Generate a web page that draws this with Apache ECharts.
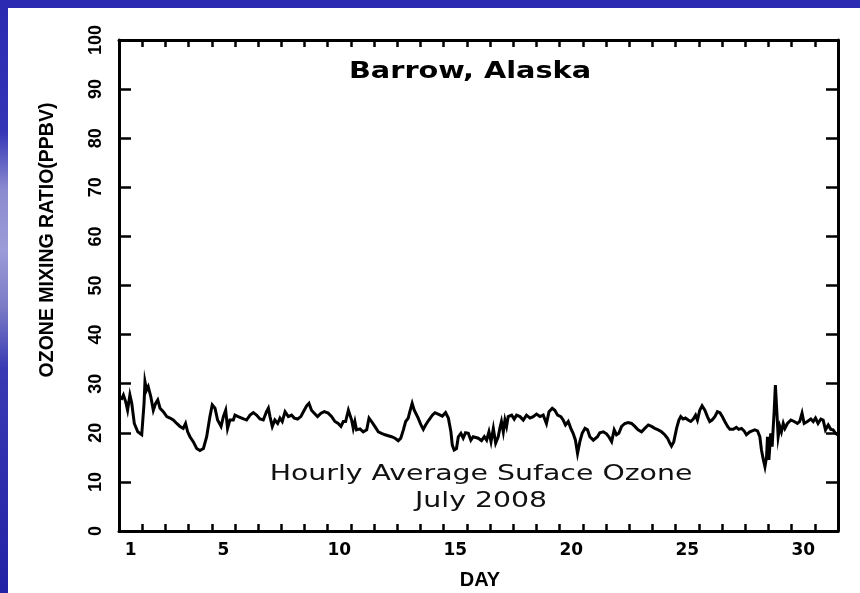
<!DOCTYPE html>
<html>
<head>
<meta charset="utf-8">
<script src="https://cdn.jsdelivr.net/npm/echarts@6/dist/echarts.min.js"></script>
<style>
html,body{margin:0;padding:0;background:#fff;}
#chart{width:860px;height:593px;}
</style>
</head>
<body>
<div id="chart"></div>
<script>
// ---- data (elapsed days since 1 July 00:00, hourly-average surface ozone in ppbv) ----
const dayValues = [
 0.09,0.19,0.29,0.37,0.47,0.55,0.66,0.81,0.98,1.08,1.12,1.19,1.26,1.37,1.48,1.58,1.67,1.77,1.91,2.06,
 2.20,2.34,2.49,2.63,2.77,2.87,2.96,3.06,3.20,3.35,3.49,3.64,3.78,3.92,4.02,4.14,4.25,4.40,4.50,4.60,
 4.68,4.78,4.93,
 5.00,5.14,5.29,5.50,5.65,5.79,5.93,6.08,6.22,6.36,6.44,6.51,6.61,6.72,6.84,6.94,7.04,7.16,7.23,7.30,
 7.44,7.56,7.70,7.84,7.95,8.09,8.19,8.30,8.42,8.56,8.71,8.85,9.02,9.17,9.31,9.45,9.57,9.67,9.77,9.89,
 9.96,10.03,10.10,10.17,10.24,
 10.39,10.53,10.68,10.78,10.89,11.03,11.18,11.32,11.47,11.61,11.75,11.90,12.04,12.15,12.26,12.36,12.47,
 12.54,12.64,12.73,12.80,12.90,13.02,13.12,13.22,13.36,13.51,13.62,13.76,13.94,14.08,14.20,14.31,14.37,
 14.45,14.55,14.63,14.74,14.84,14.94,15.06,15.17,15.27,
 15.35,15.49,15.63,15.75,15.85,15.95,16.04,16.14,16.24,16.35,16.42,16.49,16.57,16.64,16.71,16.78,16.93,
 17.04,17.14,17.29,17.43,17.57,17.72,17.86,18.00,18.15,18.29,18.43,18.54,18.68,18.79,18.91,19.05,19.15,
 19.25,19.37,19.48,19.58,19.68,19.77,19.87,19.97,20.09,20.20,20.30,20.45,
 20.63,20.73,20.88,21.02,21.12,21.24,21.35,21.45,21.55,21.67,21.81,21.95,22.10,22.24,22.38,22.53,22.67,
 22.82,22.96,23.10,23.25,23.39,23.53,23.65,23.75,23.82,23.92,24.04,24.14,24.22,24.32,24.42,24.54,24.65,
 24.76,24.86,24.94,25.04,25.14,25.26,25.37,25.47,25.57,
 25.69,25.80,25.91,26.01,26.12,26.24,26.34,26.48,26.62,26.72,26.84,26.95,27.05,27.13,27.20,27.30,27.41,
 27.53,27.63,27.70,27.77,27.85,27.92,27.96,28.02,28.10,28.16,28.25,28.30,28.36,28.42,28.49,28.56,28.64,
 28.71,28.82,28.97,29.11,29.25,29.35,29.45,29.54,29.68,29.83,29.93,30.03,30.14,30.26,30.36,30.46,30.58,
 30.69,30.79,30.89,30.98
];
const ozoneValues = [
 26.7,27.7,26.3,24.6,27.7,26.0,21.9,20.2,19.6,26.0,30.4,28.7,29.4,27.4,24.6,26.0,26.7,25.0,24.3,23.3,
 23.0,22.6,21.9,21.3,20.9,21.9,20.2,19.2,18.2,16.8,16.4,16.8,19.2,23.3,25.7,25.0,22.6,21.3,23.3,24.6,
 20.9,22.6,22.6,
 23.6,23.3,23.0,22.6,23.6,24.1,23.6,22.8,22.6,24.3,25.0,23.3,21.3,22.6,21.9,23.0,22.3,24.3,24.6,23.3,
 23.6,23.0,22.8,23.3,24.3,25.5,26.0,24.6,24.0,23.3,24.0,24.3,24.0,23.3,22.3,21.9,21.3,22.3,22.3,24.6,
 24.3,22.6,20.9,22.3,20.6,
 20.8,20.2,20.6,23.0,22.3,21.3,20.2,19.9,19.6,19.4,19.2,18.9,18.4,18.9,20.6,22.3,23.0,
 24.3,26.0,24.6,25.0,23.0,21.6,20.7,21.6,22.6,23.6,24.1,23.8,23.4,24.1,23.0,20.2,17.5,
 16.5,16.8,19.2,19.9,18.9,20.0,19.9,18.5,19.2,
 19.6,18.9,18.4,19.2,18.5,20.2,18.2,20.9,17.9,19.2,20.9,22.3,20.2,22.6,21.3,23.3,23.6,
 22.8,23.6,23.3,22.6,23.6,23.0,23.3,23.8,23.3,23.6,21.9,24.3,25.0,24.6,23.6,23.3,22.6,
 21.6,22.3,20.9,19.9,18.5,15.8,18.2,19.9,20.9,20.6,19.2,18.5,
 19.2,20.0,20.2,19.8,19.2,18.2,20.6,19.6,19.9,21.3,21.9,22.1,21.9,21.3,20.6,20.2,20.9,
 21.6,21.3,20.9,20.6,20.2,19.6,18.9,17.9,17.3,18.2,20.9,22.6,23.3,22.8,23.0,22.6,22.3,
 22.8,23.6,22.6,24.6,25.5,24.6,23.3,22.3,22.6,
 23.3,24.3,24.1,23.3,22.3,21.3,20.7,20.7,21.1,20.7,20.9,20.4,19.6,19.2,20.2,20.4,20.6,
 20.4,19.2,16.5,14.8,13.1,15.1,19.2,14.5,19.9,17.2,24.6,29.7,24.6,19.2,21.3,20.2,21.9,
 20.9,21.9,22.6,22.3,21.9,22.3,24.0,21.9,22.3,22.8,22.3,23.0,21.9,22.8,22.6,20.6,21.6,
 20.7,20.6,19.9,19.6
];
const dayTickValues = [1,2,3,4,5,6,7,8,9,10,11,12,13,14,15,16,17,18,19,20,21,22,23,24,25,26,27,28,29,30];
const dayLabels = [1,5,10,15,20,25,30];
const yTickLabels = [0,10,20,30,40,50,60,70,80,90,100];

const seriesData = dayValues.map((d,i)=>[d, ozoneValues[i]]);
// day labels sit at the middle of each day
const labelPositions = dayLabels.map(d => d - 0.5);

const chart = echarts.init(document.getElementById('chart'), null, {renderer:'canvas'});

const xBase = {
  type:'value', min:0, max:31,
  splitLine:{show:false},
  axisLine:{show:true, onZero:false, lineStyle:{color:'#000', width:3}},
  axisTick:{show:true, inside:true, length:7, lineStyle:{color:'#000', width:2.5}, customValues: dayTickValues}
};
const yBase = {
  type:'value', min:0, max:100, interval:10,
  splitLine:{show:false},
  axisLine:{show:true, onZero:false, lineStyle:{color:'#000', width:3}},
  axisTick:{show:true, inside:true, length:12, lineStyle:{color:'#000', width:2.5}}
};

chart.setOption({
  backgroundColor:'#ffffff',
  animation:false,
  grid:{left:119, right:22, top:40, bottom:62, containLabel:false},
  xAxis:[
    Object.assign({}, xBase, {
      position:'bottom',
      axisLabel:{
        show:true, customValues: labelPositions, margin:11,
        formatter: v => String(Math.round(v + 0.5)),
        fontFamily:'DejaVu Sans', fontWeight:'bold', fontSize:17, color:'#000'
      }
    }),
    Object.assign({}, xBase, {position:'top', axisLabel:{show:false}})
  ],
  yAxis:[
    Object.assign({}, yBase, {
      position:'left',
      axisLabel:{
        show:true, rotate:90, margin:14,
        customValues: yTickLabels,
        fontFamily:'Liberation Sans', fontWeight:'bold', fontSize:18, color:'#000'
      }
    }),
    Object.assign({}, yBase, {position:'right', axisLabel:{show:false}})
  ],
  series:[{
    type:'line',
    xAxisIndex:0, yAxisIndex:0,
    data: seriesData,
    showSymbol:false, symbol:'none', smooth:false,
    lineStyle:{color:'#000', width:3, join:'miter'},
    clip:true
  }],
  graphic:[
    {type:'rect', left:0, top:0, shape:{width:860, height:8}, style:{fill:'#2a2ab2'}, silent:true},
    {type:'rect', left:0, top:0, shape:{width:8, height:593},
     style:{fill:new echarts.graphic.LinearGradient(0,0,0,1,[
       {offset:0, color:'#2a2ab2'},
       {offset:0.22, color:'#3434b6'},
       {offset:0.32, color:'#8a8ad0'},
       {offset:0.42, color:'#9c9cd8'},
       {offset:0.52, color:'#7a7ac6'},
       {offset:0.62, color:'#3a3ab4'},
       {offset:1, color:'#2222a6'}
     ])}, silent:true},
    {type:'text', x:470, y:72, scaleX:1.25, silent:true,
     style:{text:'Barrow, Alaska', font:'bold 23px "DejaVu Sans"', fill:'#000', textAlign:'center', textVerticalAlign:'middle'}},
    {type:'text', x:481, y:475, scaleX:1.35, silent:true,
     style:{text:'Hourly Average Suface Ozone', font:'21px "DejaVu Sans"', fill:'#111', textAlign:'center', textVerticalAlign:'middle'}},
    {type:'text', x:481, y:502, scaleX:1.35, silent:true,
     style:{text:'July 2008', font:'21px "DejaVu Sans"', fill:'#111', textAlign:'center', textVerticalAlign:'middle'}},
    {type:'text', x:48, y:240, rotation:Math.PI/2, silent:true,
     style:{text:'OZONE MIXING RATIO(PPBV)', font:'bold 19.5px "Liberation Sans"', fill:'#000', textAlign:'center', textVerticalAlign:'middle'}},
    {type:'text', x:480, y:580, silent:true,
     style:{text:'DAY', font:'bold 20px "Liberation Sans"', fill:'#000', textAlign:'center', textVerticalAlign:'middle'}}
  ]
});
</script>
</body>
</html>
